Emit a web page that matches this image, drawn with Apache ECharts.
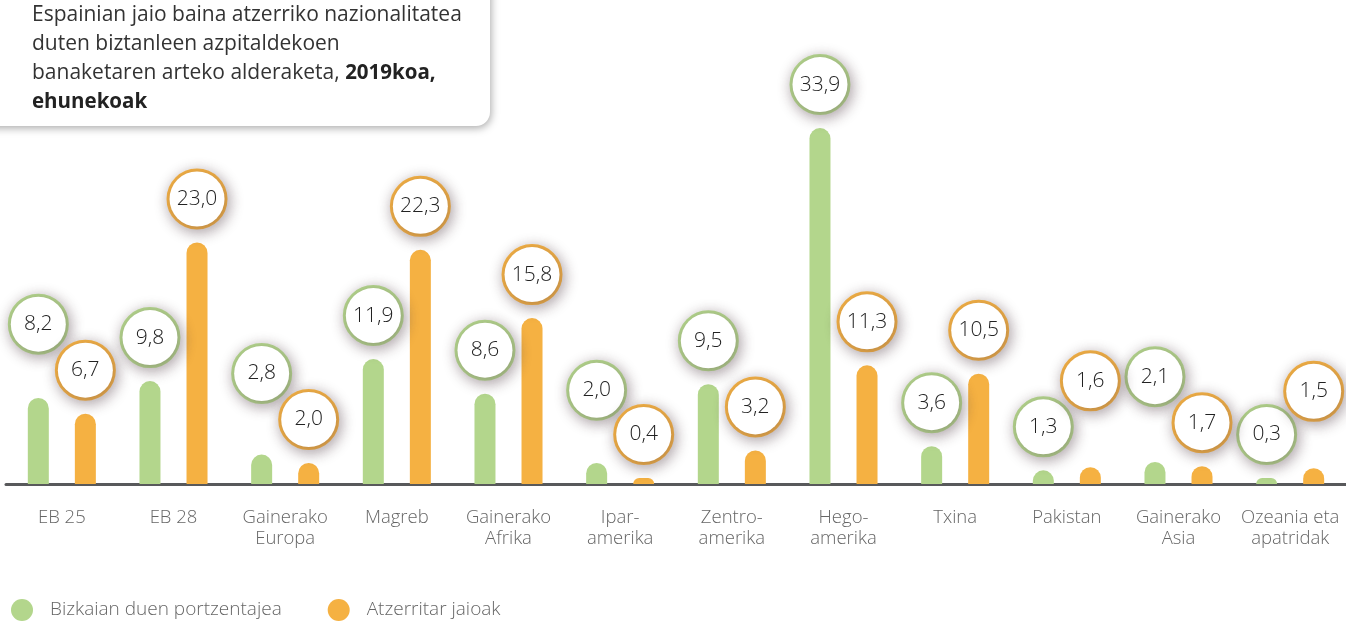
<!DOCTYPE html>
<html><head><meta charset="utf-8">
<script src="https://cdn.jsdelivr.net/npm/echarts@6/dist/echarts.min.js"></script>
<style>html,body{margin:0;padding:0;background:#fff}#c{width:1346px;height:621px}</style>
</head><body><div id="c"></div>
<script>
const categories = ['EB 25','EB 28','Gainerako\nEuropa','Magreb','Gainerako\nAfrika','Ipar-\namerika','Zentro-\namerika','Hego-\namerika','Txina','Pakistan','Gainerako\nAsia','Ozeania eta\napatridak'];
const bizkaia = [8.2,9.8,2.8,11.9,8.6,2.0,9.5,33.9,3.6,1.3,2.1,0.3];
const atzerritar = [6.7,23.0,2.0,22.3,15.8,0.4,3.2,11.3,10.5,1.6,1.7,1.5];
const seriesNames = ['Bizkaian duen portzentajea','Atzerritar jaioak'];
const titleText = 'Espainian jaio baina atzerriko nazionalitatea\nduten biztanleen azpitaldekoen\nbanaketaren arteko alderaketa, {b|2019koa,}\n{b|ehunekoak}';

const GREEN = '#b3d68c', ORANGE = '#f5b142';
const FONT = '"Open Sans"';
const fmt = v => v.toFixed(1).replace('.', ',');

function labelCfg(color) {
  return {
    show: true, position: 'top', distance: 16,
    formatter: p => fmt(p.value),
    width: 55, height: 55, lineHeight: 55, align: 'center',
    backgroundColor: '#fff', borderColor: color, borderWidth: 3, borderRadius: 29,
    shadowBlur: 14, shadowColor: 'rgba(90,70,80,0.45)', shadowOffsetX: 2, shadowOffsetY: 3,
    fontFamily: FONT, fontWeight: 300, fontSize: 21, color: '#222'
  };
}

const chart = echarts.init(document.getElementById('c'), null, {renderer: 'canvas'});
const option = {
  animation: false,
  grid: {left: 6, width: 1342, top: 43, bottom: 137},
  xAxis: {
    type: 'category', data: categories,
    axisTick: {show: false},
    axisLine: {lineStyle: {color: '#58595b', width: 3}},
    axisLabel: {interval: 0, color: '#666', fontSize: 18.5, fontFamily: FONT, fontWeight: 300, lineHeight: 21, margin: 23}
  },
  yAxis: {type: 'value', min: 0, max: 42, show: false},
  legend: {
    data: seriesNames, left: 11, top: 599, padding: 0, icon: 'circle', itemWidth: 22, itemHeight: 22, itemGap: 46,
    textStyle: {fontSize: 19, color: '#666', fontFamily: FONT, fontWeight: 300, padding: [0, 0, 0, 12]}
  },
  series: [
    {name: seriesNames[0], type: 'bar', data: bizkaia, barWidth: 21, barGap: '124%', barMinHeight: 6,
     itemStyle: {color: GREEN, borderRadius: [11, 11, 0, 0]}, label: labelCfg(GREEN), z: 2},
    {name: seriesNames[1], type: 'bar', data: atzerritar, barWidth: 21, barMinHeight: 6,
     itemStyle: {color: ORANGE, borderRadius: [11, 11, 0, 0]}, label: labelCfg(ORANGE), z: 2}
  ],
  graphic: [{
    type: 'group', children: [
      {type: 'rect', shape: {x: -20, y: -20, width: 510, height: 146, r: [0, 0, 14, 0]},
       style: {fill: '#fff', shadowBlur: 8, shadowColor: 'rgba(0,0,0,0.35)', shadowOffsetX: 1, shadowOffsetY: 2}},
      {type: 'text', x: 32, y: 1,
       style: {text: titleText, fontSize: 21, lineHeight: 29, fontFamily: FONT, fontWeight: 400, fill: '#333', verticalAlign: 'top',
         rich: {b: {fontWeight: 'bold', fontSize: 20.5, lineHeight: 29, fontFamily: FONT, fill: '#222'}}}}
    ]
  }]
};
chart.setOption(option);

// stagger overlapping value bubbles within a category
const SEP = 46;
const gItems = [], oItems = [];
for (let i = 0; i < categories.length; i++) {
  const yg = chart.convertToPixel({yAxisIndex: 0}, bizkaia[i]);
  const yo = chart.convertToPixel({yAxisIndex: 0}, atzerritar[i]);
  let liftG = 0, liftO = 0;
  if (Math.abs(yg - yo) < SEP) {
    if (bizkaia[i] >= atzerritar[i]) liftG = yg - (yo - SEP);
    else liftO = yo - (yg - SEP);
  }
  gItems.push({value: bizkaia[i], label: {offset: [0, -liftG]}});
  oItems.push({value: atzerritar[i], label: {offset: [0, -liftO]}});
}
chart.setOption({series: [{data: gItems}, {data: oItems}]});
</script></body></html>
